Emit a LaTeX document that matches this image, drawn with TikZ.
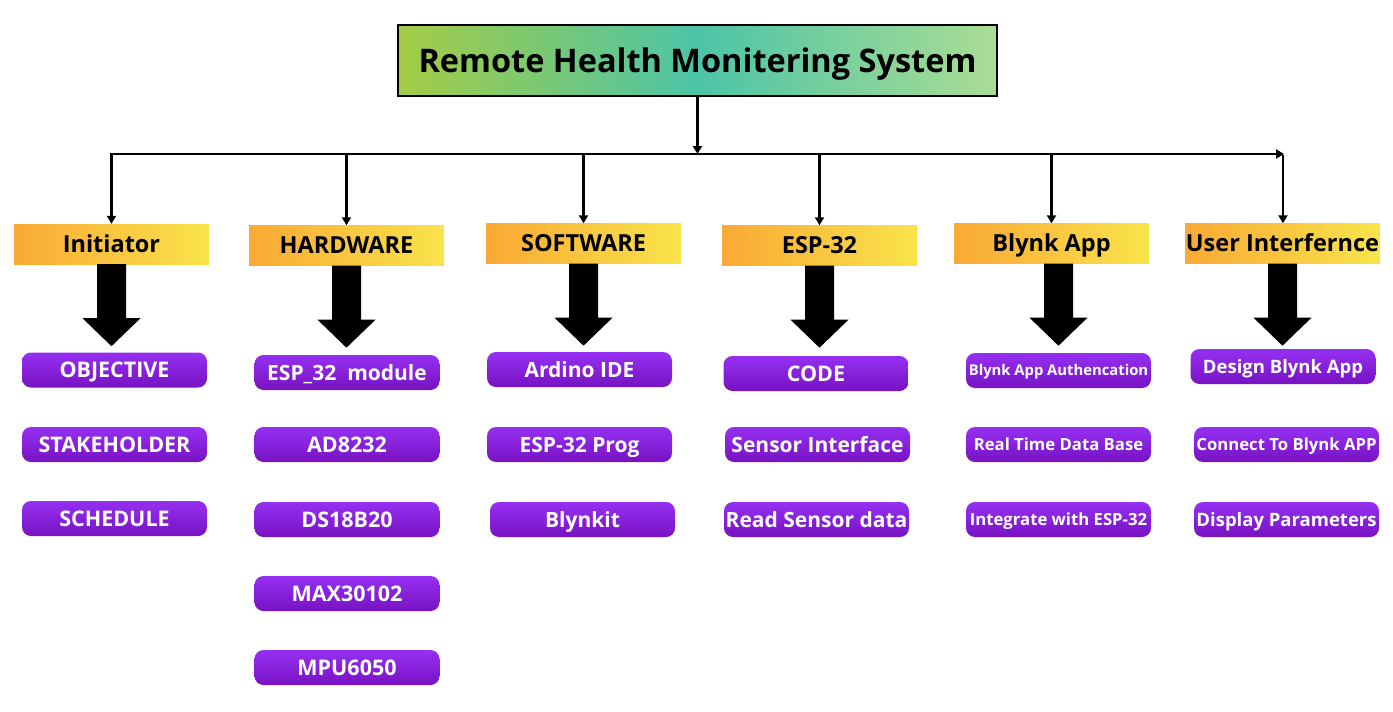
\documentclass[tikz,border=0pt]{standalone}
\usepackage{fontspec}
\setmainfont{Open Sans}
\usetikzlibrary{arrows.meta}
\definecolor{tl}{HTML}{A4CC45}
\definecolor{tm}{HTML}{4DC4A7}
\definecolor{tr}{HTML}{AADD94}
\definecolor{hl}{HTML}{F9A935}
\definecolor{hr}{HTML}{F9E44B}
\definecolor{pt}{HTML}{9530F2}
\definecolor{pb}{HTML}{7812C2}
\pgfdeclarehorizontalshading{titleshade}{100bp}{color(0bp)=(tl); color(25bp)=(tl); color(50bp)=(tm); color(75bp)=(tr); color(100bp)=(tr)}
\tikzset{
  titlebox/.style={draw=black, line width=2pt, shading=titleshade, minimum width=599, minimum height=71, inner sep=0pt, text height=23.2pt, text depth=0pt, font=\fontsize{32.5}{38}\selectfont\bfseries},
  headbox/.style={left color=hl, right color=hr, minimum width=195, minimum height=40, inner sep=0pt, text height=16.8pt, text depth=0pt, font=\fontsize{23.5}{28}\selectfont\bfseries},
  leafbox/.style={top color=pt, bottom color=pb, rounded corners=9pt, minimum width=185, minimum height=35, inner sep=0pt, text=white, text height=15.4pt, text depth=0pt, font=\fontsize{21.5}{25}\selectfont\bfseries},
  lower/.style={text height=15pt, font=\fontsize{21}{25}\selectfont\bfseries},
  small/.style={text height=10.6pt, font=\fontsize{14.8}{17}\selectfont\bfseries},
  smallb/.style={text height=11.9pt, font=\fontsize{16.7}{20}\selectfont\bfseries},
  mid/.style={text height=13.2pt, font=\fontsize{18.5}{22}\selectfont\bfseries},
  thin/.style={line width=2.5pt, -{Triangle[length=8pt,width=9pt]}},
}
\newcommand\bigarr[1]{\fill[black] (#1) ++(-14.5,0) -- ++(0,54) -- ++(-14.5,0) -- ++(29,28) -- ++(29,-28) -- ++(-14.5,0) -- ++(0,-54) -- cycle;}
\begin{document}
\begin{tikzpicture}[x=1pt,y=-1pt]
\useasboundingbox (0,0) rectangle (1393,712);
\fill[white] (0,0) rectangle (1393,712);
\node[titlebox] (title) at (697.5,60.5) {Remote Health Monitering System};
% headers
\node[headbox] (h1) at (111.5,244) {Initiator};
\node[headbox] (h2) at (346.5,245.5) {HARDWARE};
\node[headbox] (h3) at (583.5,243.5) {SOFTWARE};
\node[headbox] (h4) at (819.5,245.5) {ESP-32};
\node[headbox] (h5) at (1051.5,243.5) {Blynk App};
\node[headbox] (h6) at (1282.5,243.5) {User Interfernce};
% bus
\coordinate (busL) at (110,154);
\coordinate (busR) at (1283,154);
\draw[thin] (title.south) -- (title.south |- busL);
\draw[line width=2.5pt, -{Triangle[length=8pt,width=9pt]}, shorten >=-1pt] (busL) -- (busR);
\foreach \h in {h1,h2,h3,h4,h5}{\draw[thin] (\h.north |- busL) -- (\h.north);}
\draw[thin] ([yshift=-1.25pt]busR) -- (busR |- h6.north);
% leaves
\node[leafbox] (p11) at (114.5,370) {OBJECTIVE};
\node[leafbox] (p12) at (114.5,444.5) {STAKEHOLDER};
\node[leafbox] (p13) at (114.5,518.5) {SCHEDULE};
\node[leafbox,lower] (p21) at (347,372.5) {ESP\_32\ \ module};
\node[leafbox] (p22) at (347,444.5) {AD8232};
\node[leafbox] (p23) at (347,519.5) {DS18B20};
\node[leafbox] (p24) at (347,593.5) {MAX30102};
\node[leafbox] (p25) at (347,667.5) {MPU6050};
\node[leafbox,lower] (p31) at (579.5,369.5) {Ardino IDE};
\node[leafbox,lower] (p32) at (579.5,444.5) {ESP-32 Prog};
\node[leafbox,lower] (p33) at (582.5,519.5) {Blynkit};
\node[leafbox] (p41) at (816,373.5) {CODE};
\node[leafbox,lower] (p42) at (817.5,444.5) {Sensor Interface};
\node[leafbox,lower] (p43) at (816.5,519.5) {Read Sensor data};
\node[leafbox,small] (p51) at (1058.5,370.5) {Blynk App Authencation};
\node[leafbox,smallb] (p52) at (1058.5,444.5) {Real Time Data Base};
\node[leafbox,smallb] (p53) at (1058.5,519.5) {Integrate with ESP-32};
\node[leafbox,mid] (p61) at (1283,366.5) {Design Blynk App};
\node[leafbox,smallb] (p62) at (1286.5,444.5) {Connect To Blynk APP};
\node[leafbox,mid] (p63) at (1286.5,519.5) {Display Parameters};
% big arrows
\bigarr{h1.south}
\bigarr{h2.south}
\bigarr{h3.south}
\bigarr{h4.south}
\bigarr{p51.north |- h5.south}
\bigarr{h6.south}
\end{tikzpicture}
\end{document}
